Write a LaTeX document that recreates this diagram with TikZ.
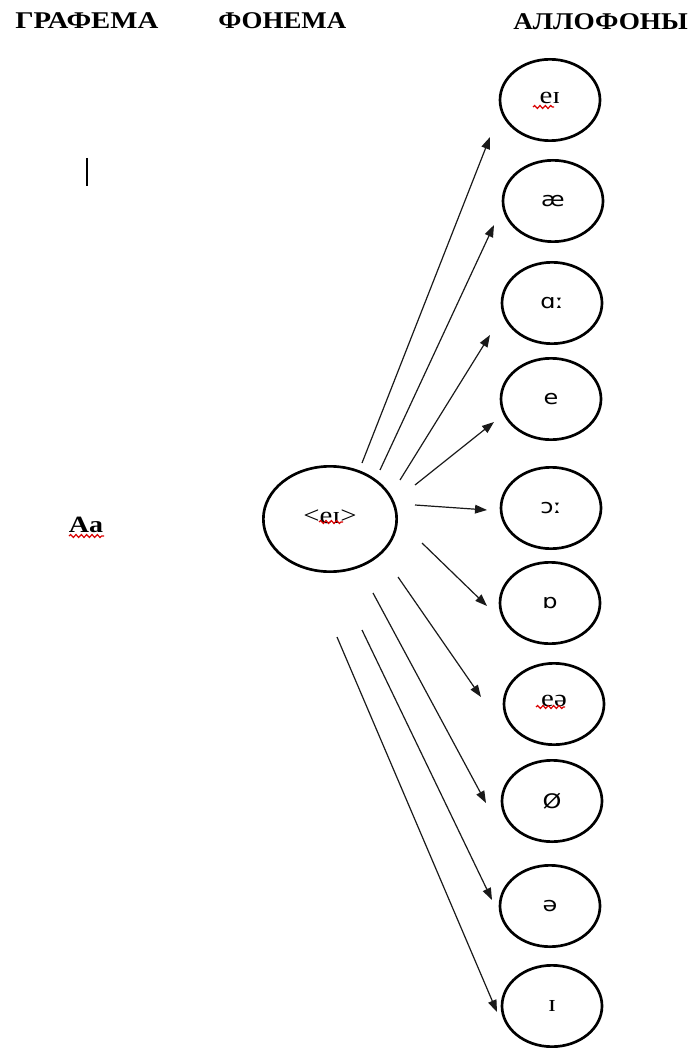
\documentclass[tikz,border=0pt]{standalone}
\usepackage{fontspec}
\setmainfont{Liberation Serif}
\newfontfamily\ipasans{DejaVu Sans}
\usetikzlibrary{arrows.meta,shapes.geometric,decorations.pathmorphing}

% text is set a little wider than its natural width
\newcommand\wide[2][1.2]{\scalebox{#1}[1]{#2}}

\begin{document}
\begin{tikzpicture}[x=0.75pt,y=-0.75pt,
  head/.style={font=\bfseries\fontsize{18}{20}\selectfont, anchor=west, inner sep=0pt},
  allo/.style={draw, ellipse, line width=2pt, minimum width=75pt, minimum height=61pt, inner sep=0pt,
               font=\fontsize{18}{20}\selectfont},
  sans/.style={font=\ipasans\fontsize{15}{17}\selectfont},
  phon/.style={draw, ellipse, line width=2pt, minimum width=100pt, minimum height=79pt, inner sep=0pt,
               font=\fontsize{18}{20}\selectfont},
  link/.style={-{Triangle[length=9pt,width=6.5pt]}, line width=0.9pt, draw=black!90},
  squig/.style={draw=red!85!black, line width=0.9pt, decorate,
                decoration={snake, amplitude=1.1pt, segment length=4pt}}
]
\useasboundingbox (0,0) rectangle (691,1048);

% column headings
\node[head] (hg) at (15,21) {\wide{ГРАФЕМА}};
\node[head] (hp) at (218,21) {\wide[1.12]{ФОНЕМА}};
\node[head] (ha) at (513,22) {\wide[1.135]{АЛЛОФОНЫ}};

% grapheme
\node[font=\bfseries\fontsize{17.5}{19}\selectfont, inner sep=0pt] (gr) at (86,525) {\wide{Aa}};
\draw[squig] ([shift={(-17,11)}]gr.center) -- ([shift={(18,11)}]gr.center);
\coordinate (bar1) at (87,158);
\coordinate (bar2) at (87,186);
\draw[line width=1.1pt] (bar1) -- (bar2);

% phoneme
\node[phon] (ph) at (330,519) {\raisebox{4pt}{\wide{<eɪ>}}};
\draw[squig] ([shift={(-11,3)}]ph.center) -- ([shift={(13,3)}]ph.center);

% allophones
\node[allo] (a1) at (550,100) {\raisebox{3pt}{\wide{eɪ}}};
\node[allo,sans] (a2) at (553,201) {\wide{æ}};
\node[allo,sans] (a3) at (552,303) {\wide{ɑː}};
\node[allo,sans] (a4) at (551,399) {\wide{e}};
\node[allo,sans] (a5) at (551,508) {\wide{ɔː}};
\node[allo,sans] (a6) at (550,603) {\wide{ɒ}};
\node[allo] (a7) at (554,704) {\raisebox{4pt}{\wide{eə}}};
\node[allo,sans] (a8) at (552,801) {\wide{Ø}};
\node[allo,sans] (a9) at (550,906) {\wide{ə}};
\node[allo] (a10) at (552,1006) {\wide{ɪ}};
\draw[squig] ([shift={(-17,7)}]a1.center) -- ([shift={(4,7)}]a1.center);
\draw[squig] ([shift={(-18,3)}]a7.center) -- ([shift={(11,3)}]a7.center);

% arrow ends
\coordinate (s1) at (362,463);  \coordinate (t1) at (490,137);
\coordinate (s2) at (380,470);  \coordinate (t2) at (494,225);
\coordinate (s3) at (400,480);  \coordinate (t3) at (490,335);
\coordinate (s4) at (415,485);  \coordinate (t4) at (494,422);
\coordinate (s5) at (415,505);  \coordinate (t5) at (487,510);
\coordinate (s6) at (422,543);  \coordinate (t6) at (487,606);
\coordinate (s7) at (398,577);  \coordinate (t7) at (481,697);
\coordinate (s8) at (373,593);  \coordinate (t8) at (486,803);
\coordinate (s9) at (362,630);  \coordinate (t9) at (492,900);
\coordinate (s10) at (337,637); \coordinate (t10) at (497,1012);

\foreach \i in {1,...,10} \draw[link] (s\i) -- (t\i);
\end{tikzpicture}
\end{document}
